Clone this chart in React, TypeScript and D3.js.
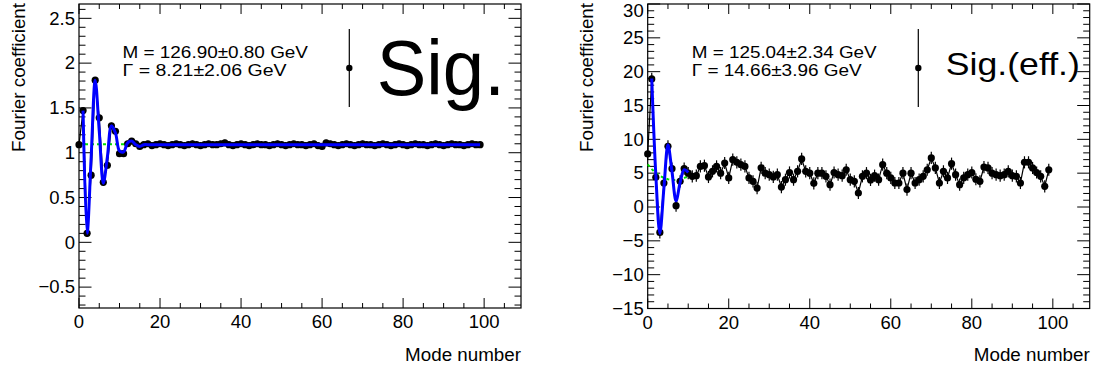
import React from "react";
import * as d3 from "d3";

// ---------- data ----------
const leftValues = [
  1.09, 1.47, 0.10, 0.75, 1.81, 1.39, 0.67, 0.86, 1.30, 1.24,
  0.99, 0.99, 1.10, 1.13, 1.10, 1.07, 1.09, 1.10, 1.08, 1.09,
  1.10, 1.09, 1.08, 1.09, 1.10, 1.09, 1.08, 1.09, 1.10, 1.09,
  1.08, 1.09, 1.10, 1.09, 1.09, 1.10, 1.11, 1.09, 1.08, 1.09,
  1.10, 1.09, 1.08, 1.09, 1.10, 1.09, 1.09, 1.08, 1.09, 1.10,
  1.09, 1.08, 1.09, 1.10, 1.09, 1.09, 1.08, 1.09, 1.10, 1.08,
  1.07, 1.11, 1.10, 1.09, 1.08, 1.09, 1.10, 1.09, 1.08, 1.09,
  1.10, 1.09, 1.09, 1.08, 1.09, 1.10, 1.09, 1.08, 1.09, 1.10,
  1.09, 1.08, 1.09, 1.10, 1.09, 1.09, 1.08, 1.09, 1.10, 1.09,
  1.08, 1.09, 1.10, 1.09, 1.09, 1.08, 1.09, 1.10, 1.09, 1.09,
];
const leftError = 0.035;
const leftFit: [number, number][] = [
  [1, 1.47], [2, 0.10], [3, 0.95], [4, 1.81], [5, 1.24], [6, 0.66], [7, 0.95],
  [8, 1.30], [9, 1.22], [10, 1.02], [11, 1.01], [12, 1.11], [13, 1.13], [14, 1.09],
  [15, 1.07], [16, 1.09], [17, 1.09], [99, 1.09],
];
const leftBkg: [number, number][] = [[0, 1.094], [14, 1.094]];

const rightValues = [
  7.84, 18.93, 4.4, -3.75, 3.55, 8.97, 5.67, 0.19, 3.8, 5.67,
  5.0, 4.53, 4.63, 6.0, 6.1, 4.44, 5.27, 6.0, 5.0, 6.5,
  4.3, 7.0, 6.6, 6.26, 6.0, 4.3, 3.79, 2.8, 5.8, 5.0,
  4.78, 4.44, 4.78, 2.95, 4.04, 5.1, 4.04, 5.27, 7.1, 5.27,
  5.0, 3.5, 5.0, 5.0, 4.53, 3.3, 5.1, 4.78, 4.63, 5.5,
  4.04, 3.79, 2.07, 4.53, 5.0, 4.0, 4.63, 4.04, 6.26, 5.0,
  4.3, 3.55, 3.55, 5.0, 2.57, 5.0, 3.55, 4.04, 4.53, 5.5,
  7.25, 5.77, 3.55, 5.27, 4.3, 6.4, 4.78, 3.3, 4.3, 4.78,
  5.1, 4.1, 3.79, 5.9, 5.77, 5.0, 4.78, 4.63, 4.78, 5.27,
  4.63, 4.53, 3.55, 6.6, 6.6, 5.77, 5.1, 4.53, 3.05, 5.5,
];
const rightError = 0.9;
const rightFit: [number, number][] = [
  [1, 19.0], [2, 4.8], [3, -3.9], [4, 2.8], [5, 9.2], [6, 5.2], [7, 0.9],
  [8, 3.6], [9, 5.5], [10, 5.1],
];
const rightBkg: [number, number][] = [
  [0, 6.3], [1, 5.6], [2, 5.0], [3, 4.6], [4, 4.3], [5, 4.1], [6, 4.0],
  [7, 4.0], [8, 4.1], [9, 4.3], [10, 4.5],
];

const xTicks = [0, 20, 40, 60, 80, 100];
const leftYTicks = [-0.5, 0, 0.5, 1, 1.5, 2, 2.5];
const rightYTicks = [-15, -10, -5, 0, 5, 10, 15, 20, 25, 30];

const leftText = ["M = 126.90\u00b10.80 GeV", "\u0393 = 8.21\u00b12.06 GeV"];
const rightText = ["M = 125.04\u00b12.34 GeV", "\u0393 = 14.66\u00b13.96 GeV"];
const leftLegend = "Sig.";
const rightLegend = "Sig.(eff.)";
const yTitle = "Fourier coefficient";
const xTitle = "Mode number";

const FONT = "'Liberation Sans', Arial, Helvetica, sans-serif";

function fmt(v: number) {
  const s = String(v);
  return s.replace("-", "\u2212");
}

type PanelProps = {
  x0: number; x1: number; y0: number; y1: number;
  yDomain: [number, number];
  yTicks: number[]; yMinor: number;
  values: number[]; err: number;
  fit: [number, number][]; bkg: [number, number][];
  text: string[]; textX: number; textLens: number[];
  legendX: number; legend: string; legendFont: number; legendBase: number; legendLen: number;
  titleX: number;
};

function Panel(p: PanelProps) {
  const xs = d3.scaleLinear().domain([0, 109.1]).range([p.x0, p.x1]);
  const ys = d3.scaleLinear().domain(p.yDomain).range([p.y1, p.y0]);
  const line = d3.line<[number, number]>().x((d) => xs(d[0])).y((d) => ys(d[1]));
  const dataLine = d3.line<number>().x((_, i) => xs(i)).y((d) => ys(d));
  const fitLine = d3.line<[number, number]>().x((d) => xs(d[0])).y((d) => ys(d[1])).curve(d3.curveCatmullRom);

  const xMinor = d3.range(0, 109.1, 5);
  const yMinorTicks = d3.range(
    Math.ceil(p.yDomain[0] / p.yMinor) * p.yMinor,
    p.yDomain[1] + 1e-9,
    p.yMinor
  ).map((v) => Math.round(v / p.yMinor) * p.yMinor);

  const xMaj = 10, xMin = 5, yMaj = 12.5, yMin = 6.5;
  const isMajorY = (v: number) => p.yTicks.some((t) => Math.abs(t - v) < 1e-6);
  const isMajorX = (v: number) => xTicks.includes(v);

  return (
    <g>
      {/* frame */}
      <rect x={p.x0} y={p.y0} width={p.x1 - p.x0} height={p.y1 - p.y0} fill="none" stroke="#000" strokeWidth={1.2} />
      {/* x ticks */}
      {xMinor.map((v) => {
        const L = isMajorX(v) ? xMaj : xMin;
        return (
          <g key={"x" + v}>
            <line x1={xs(v)} x2={xs(v)} y1={p.y1} y2={p.y1 - L} stroke="#000" strokeWidth={1} />
            <line x1={xs(v)} x2={xs(v)} y1={p.y0} y2={p.y0 + L} stroke="#000" strokeWidth={1} />
          </g>
        );
      })}
      {/* y ticks */}
      {yMinorTicks.map((v) => {
        const L = isMajorY(v) ? yMaj : yMin;
        return (
          <g key={"y" + v}>
            <line x1={p.x0} x2={p.x0 + L} y1={ys(v)} y2={ys(v)} stroke="#000" strokeWidth={1} />
            <line x1={p.x1} x2={p.x1 - L} y1={ys(v)} y2={ys(v)} stroke="#000" strokeWidth={1} />
          </g>
        );
      })}
      {/* tick labels */}
      {xTicks.map((v) => (
        <text key={"xl" + v} x={xs(v)} y={p.y1 + 20} fontSize={18.5} textAnchor="middle" fontFamily={FONT}>
          {fmt(v)}
        </text>
      ))}
      {p.yTicks.map((v) => (
        <text key={"yl" + v} x={p.x0 - 4} y={Math.max(ys(v), 11)} dy="0.34em" fontSize={18.5} textAnchor="end" fontFamily={FONT}>
          {fmt(v)}
        </text>
      ))}
      {/* titles */}
      <text x={p.x1} y={361} fontSize={18.8} textAnchor="end" fontFamily={FONT}>{xTitle}</text>
      <text transform={`translate(${p.titleX},3) rotate(-90)`} fontSize={18.8} textAnchor="end" fontFamily={FONT}>{yTitle}</text>

      {/* background (green dashed) */}
      <path d={line(p.bkg) || ""} fill="none" stroke="#00e000" strokeWidth={2} strokeDasharray="3,3" />
      {/* data */}
      <path d={dataLine(p.values) || ""} fill="none" stroke="#000" strokeWidth={1.2} />
      {p.values.map((v, i) => (
        <line key={"e" + i} x1={xs(i)} x2={xs(i)} y1={ys(v - p.err)} y2={ys(v + p.err)} stroke="#000" strokeWidth={1.2} />
      ))}
      {p.values.map((v, i) => (
        <circle key={"c" + i} cx={xs(i)} cy={ys(v)} r={3.6} fill="#000" />
      ))}
      {/* fit */}
      <path d={fitLine(p.fit) || ""} fill="none" stroke="#0000ff" strokeWidth={3} strokeLinejoin="round" />

      {/* annotation */}
      {p.text.map((t, i) => (
        <text key={"t" + i} x={p.textX} y={58 + i * 17.5} fontSize={16} fontFamily={FONT}
          textLength={p.textLens[i]} lengthAdjust="spacingAndGlyphs">{t}</text>
      ))}
      {/* legend */}
      <line x1={p.legendX} x2={p.legendX} y1={29} y2={107} stroke="#000" strokeWidth={1.2} />
      <circle cx={p.legendX} cy={68} r={3.2} fill="#000" />
      <text x={p.legendX + 27.5} y={p.legendBase} fontSize={p.legendFont} fontFamily={FONT}
        textLength={p.legendLen} lengthAdjust="spacingAndGlyphs">{p.legend}</text>
    </g>
  );
}

export default function App() {
  return (
    <svg width={1093} height={368} style={{ position: "absolute", left: 0, top: 0, background: "#fff" }}>
      <rect width={1093} height={368} fill="#fff" />
      <Panel
        x0={79} x1={521} y0={4} y1={308}
        yDomain={[-0.733, 2.66]} yTicks={leftYTicks} yMinor={0.1}
        values={leftValues} err={leftError} fit={leftFit} bkg={leftBkg}
        text={leftText} textX={122.5} textLens={[185.5, 164]}
        legendX={349.3} legend={leftLegend} legendFont={78} legendBase={95} legendLen={128}
        titleX={25}
      />
      <Panel
        x0={647.7} x1={1089.7} y0={4} y1={308.5}
        yDomain={[-15, 30]} yTicks={rightYTicks} yMinor={1}
        values={rightValues} err={rightError} fit={rightFit} bkg={rightBkg}
        text={rightText} textX={691.7} textLens={[185, 170]}
        legendX={918.3} legend={rightLegend} legendFont={32} legendBase={75} legendLen={134}
        titleX={593}
      />
    </svg>
  );
}
